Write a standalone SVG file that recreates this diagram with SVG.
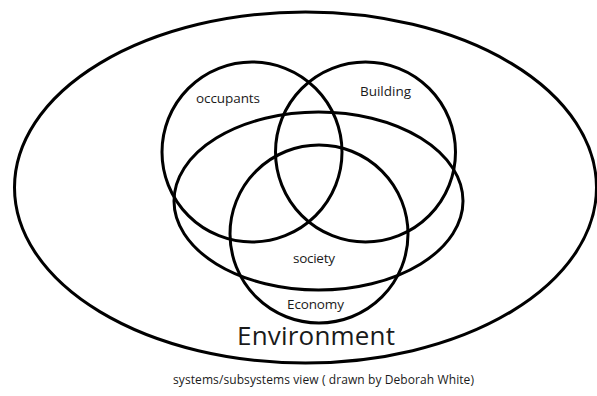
<svg xmlns="http://www.w3.org/2000/svg" width="597" height="396" viewBox="0 0 597 396">
  <style>
    .ring { fill: none; stroke: #000; stroke-width: 3; }
    .label { font-family: "Open Sans", "Liberation Sans", sans-serif; fill: #1a1a1a; font-size: 13.5px; }
    .big { font-size: 26px; }
    .caption { font-size: 12px; }
  </style>
  <rect width="597" height="396" fill="#fff"/>

  <g id="environment">
    <ellipse class="ring" cx="305.5" cy="187.5" rx="291" ry="175.5"/>
    <text class="label big" x="237" y="345" textLength="158">Environment</text>
  </g>

  <g id="occupants">
    <circle class="ring" cx="252" cy="152" r="90"/>
    <text class="label" x="196" y="103" textLength="64">occupants</text>
  </g>

  <g id="building">
    <circle class="ring" cx="365.5" cy="152" r="90"/>
    <text class="label" x="360" y="96" textLength="51">Building</text>
  </g>

  <g id="society">
    <ellipse class="ring" cx="318.5" cy="201" rx="144.5" ry="89"/>
    <text class="label" x="293" y="263" textLength="42">society</text>
  </g>

  <g id="economy">
    <circle class="ring" cx="319" cy="234" r="89"/>
    <text class="label" x="287" y="309" textLength="57">Economy</text>
  </g>

  <g id="connectors"/>

  <text class="label caption" x="173" y="384" textLength="301">systems/subsystems view ( drawn by Deborah White)</text>
</svg>
